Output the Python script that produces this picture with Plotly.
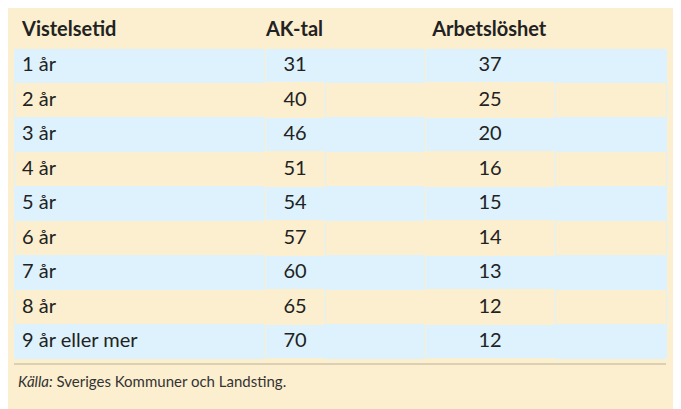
import plotly.graph_objects as go

vistelsetid = ["1 år", "2 år", "3 år", "4 år", "5 år", "6 år", "7 år", "8 år", "9 år eller mer"]
ak_tal = [31, 40, 46, 51, 54, 57, 60, 65, 70]
arbetsloshet = [37, 25, 20, 16, 15, 14, 13, 12, 12]
headers = ["Vistelsetid", "AK-tal", "", "Arbetslöshet", ""]

bg = "#fcefcf"
blue = "#ddf2fc"
row_fill = [blue if i % 2 == 0 else bg for i in range(len(vistelsetid))]
blank = [""] * len(vistelsetid)

W, H = 681, 409
off = 8  # page offset of the figure in the browser
fig = go.Figure(go.Table(
    domain=dict(x=[(14 - off) / W, (666 - off) / W], y=[0, 1]),
    columnwidth=[251, 60, 100, 130, 111],
    header=dict(values=["<b>%s</b>" % h if h else "" for h in headers],
                align=["left", "center", "center", "center", "center"],
                fill_color=bg, line_color=bg, height=37,
                font=dict(family="Lato", size=20, color="#222")),
    cells=dict(values=[vistelsetid, ak_tal, blank, arbetsloshet, blank],
               align=["left", "center", "center", "center", "center"],
               fill_color=[row_fill] * 5, line_color=row_fill, height=34.5,
               font=dict(family="Lato", size=20, color="#222")),
))

fig.add_shape(type="line", xref="paper", yref="paper",
              x0=(14 - off) / W, x1=(666 - off) / W,
              y0=1 - (364 - off) / H, y1=1 - (364 - off) / H,
              line=dict(color="#b9b29a", width=1))
fig.add_annotation(text="<i>Källa:</i> Sveriges Kommuner och Landsting.",
                   xref="paper", yref="paper", x=(16 - off) / W, y=1 - (381 - off) / H,
                   xanchor="left", yanchor="middle", showarrow=False,
                   font=dict(family="Lato", size=15, color="#333"))

fig.update_layout(width=W, height=H, margin=dict(l=0, r=0, t=0, b=0),
                  paper_bgcolor=bg, plot_bgcolor=bg)
fig.write_html("out.html")
